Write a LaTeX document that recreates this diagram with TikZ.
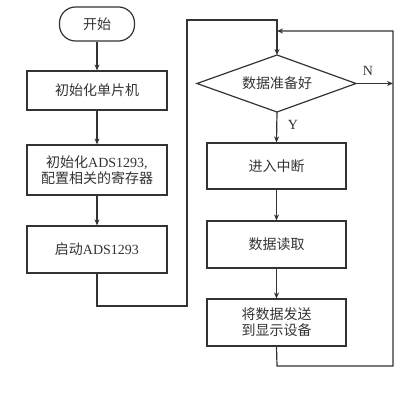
\documentclass[tikz,border=0pt]{standalone}
\usepackage{fontspec}
\setmainfont{Liberation Serif}
\newfontfamily\cjk{Noto Sans CJK SC}
\usetikzlibrary{arrows.meta}
\definecolor{ink}{HTML}{333333}
\tikzset{
  every node/.style={text=ink, font=\fontsize{14}{18}\selectfont},
  boxnode/.style={draw=ink, line width=1.2pt, rectangle, inner sep=0pt, align=center},
  flow/.style={draw=ink, line width=1.2pt, -{Stealth[length=6pt,width=5pt]}},
  plain/.style={draw=ink, line width=1.2pt}
}
\begin{document}
\begin{tikzpicture}[x=1pt,y=-1pt]
\useasboundingbox (0,0) rectangle (404,406);
% left column
\node[boxnode, rounded corners=16pt, minimum width=75pt, minimum height=34pt] (start) at (97,24) {\cjk 开始};
\node[boxnode, minimum width=140pt, minimum height=39pt] (b1) at (97,90.5) {\cjk 初始化单片机};
\node[boxnode, minimum width=140pt, minimum height=50pt] (b2) at (97,170) {{\cjk 初始化}ADS1293,\\[-2pt]{\cjk 配置相关的寄存器}};
\node[boxnode, minimum width=140pt, minimum height=47pt] (b3) at (97,249.5) {{\cjk 启动}ADS1293};
% diamond
\coordinate (dtop) at (277,55);
\coordinate (dbot) at (277,112);
\coordinate (dleft) at (197,83.5);
\coordinate (dright) at (356,83.5);
\draw[plain, line join=miter] (dtop) -- (dright) -- (dbot) -- (dleft) -- cycle;
\node (d) at (277,83.5) {\cjk 数据准备好};
% right column
\node[boxnode, minimum width=139pt, minimum height=46pt] (b4) at (276.5,166) {\cjk 进入中断};
\node[boxnode, minimum width=139pt, minimum height=47pt] (b5) at (276.5,244.5) {\cjk 数据读取};
\node[boxnode, minimum width=139pt, minimum height=47pt] (b6) at (276.5,322.5) {\cjk 将数据发送\\[-2pt]\cjk 到显示设备};
% route coordinates
\coordinate (c1) at (97,306);
\coordinate (c2) at (187,306);
\coordinate (c3) at (187,20);
\coordinate (c4) at (277,20);
\coordinate (nend) at (393,83.5);
\coordinate (r1) at (277,366);
\coordinate (r2) at (393,366);
\coordinate (r3) at (393,31);
\coordinate (r4) at (277,31);
% connectors
\draw[flow] (start) -- (b1);
\draw[flow] (b1) -- (b2);
\draw[flow] (b2) -- (b3);
\draw[flow] (b3.south) -- (c1) -- (c2) -- (c3) -- (c4) -- (dtop);
\draw[flow] (dright) -- (nend);
\draw[flow] (dbot) -- (b4.north);
\draw[flow] (b4) -- (b5);
\draw[flow] (b5) -- (b6);
\draw[flow] (b6.south) -- (r1) -- (r2) -- (r3) -- (r4);
% labels
\node (nlab) at (368,71) {N};
\node (ylab) at (293,125) {Y};
\end{tikzpicture}
\end{document}
